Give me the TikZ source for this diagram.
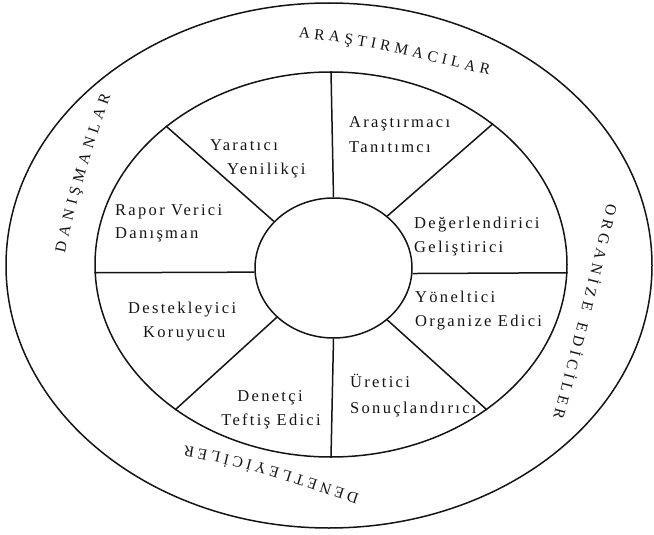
\documentclass[tikz,border=0pt]{standalone}
\usepackage{fontspec}
\setmainfont{Liberation Serif}
\newfontfamily\wheelfont[LetterSpace=14]{Liberation Serif}
\usetikzlibrary{shapes.geometric,decorations.text}
\definecolor{WheelInk}{HTML}{141414}
\newcommand\rimsize{\fontsize{15.5}{19}\selectfont}

\begin{document}
\begin{tikzpicture}[x=1pt,y=-1pt,
    ring/.style={draw=WheelInk,ellipse,line width=1.5pt,inner sep=0pt},
    spoke/.style={draw=WheelInk,line width=1.5pt},
    role/.style={text=WheelInk,inner sep=0pt,font={\wheelfont\fontsize{16.5}{20}\selectfont}},
    rimlabel/.style={decorate,decoration={text along path,text align=fit to path,raise=-5pt,text color=WheelInk}}]
  \useasboundingbox (0,0) rectangle (654,535);

  % rings
  \node[ring,minimum width=646pt,minimum height=525pt] (rim) at (329,265.5) {};
  \node[ring,minimum width=472pt,minimum height=385pt] (ring) at (331,264.5) {};
  \node[ring,minimum width=157pt,minimum height=140pt] (hub) at (333.5,268) {};

  % spokes
  \draw[spoke] (hub.north) -- (ring.north);
  \draw[spoke] (hub.south) -- (ring.south);
  \draw[spoke] (hub.183) -- (ring.182);
  \draw[spoke] (hub.356) -- (ring.358);
  \draw[spoke] (hub.142) -- (ring.140);
  \draw[spoke] (hub.44) -- (ring.41);
  \draw[spoke] (hub.221) -- (ring.223);
  \draw[spoke] (hub.316) -- (ring.317);

  % outer band
  \path[rimlabel,decoration={text={|\rimsize|ARAŞTIRMACILAR}}]
    (299,33) .. controls (363,37) and (426,56) .. (490,70);
  \path[rimlabel,decoration={text={|\rimsize|DANIŞMANLAR}}]
    (60,252) .. controls (72,197) and (87,146) .. (106,94);
  \path[rimlabel,decoration={text={|\rimsize|ORGANİZE EDİCİLER}}]
    (612,205) .. controls (594.8,276.8) and (577.3,346.8) .. (558,419);
  \path[rimlabel,decoration={text={|\rimsize|DENETLEYİCİLER}}]
    (358,499) .. controls (302,480) and (242.4,460) .. (184,451);

  % inner ring
  \node[role,anchor=base west] (ara1) at (349,128) {Araştırmacı};
  \node[role,anchor=base west] (ara2) at (349,153) {Tanıtımcı};
  \node[role,anchor=base west] (yar1) at (210,150) {Yaratıcı};
  \node[role,anchor=base west] (yar2) at (227,175) {Yenilikçi};
  \node[role,anchor=base west] (rap1) at (115,215) {Rapor Verici};
  \node[role,anchor=base west] (rap2) at (115,238) {Danışman};
  \node[role,anchor=base west] (deg1) at (414,228) {Değerlendirici};
  \node[role,anchor=base west] (deg2) at (414,252) {Geliştirici};
  \node[role,anchor=base west] (yon1) at (415,302) {Yöneltici};
  \node[role,anchor=base west] (yon2) at (415,326) {Organize Edici};
  \node[role,anchor=base west] (des1) at (128,313) {Destekleyici};
  \node[role,anchor=base west] (des2) at (143,337) {Koruyucu};
  \node[role,anchor=base] (den1) at (270,401) {Denetçi};
  \node[role,anchor=base] (den2) at (271,425) {Teftiş Edici};
  \node[role,anchor=base west] (ure1) at (350,387) {Üretici};
  \node[role,anchor=base west] (ure2) at (350,413) {Sonuçlandırıcı};
\end{tikzpicture}
\end{document}
